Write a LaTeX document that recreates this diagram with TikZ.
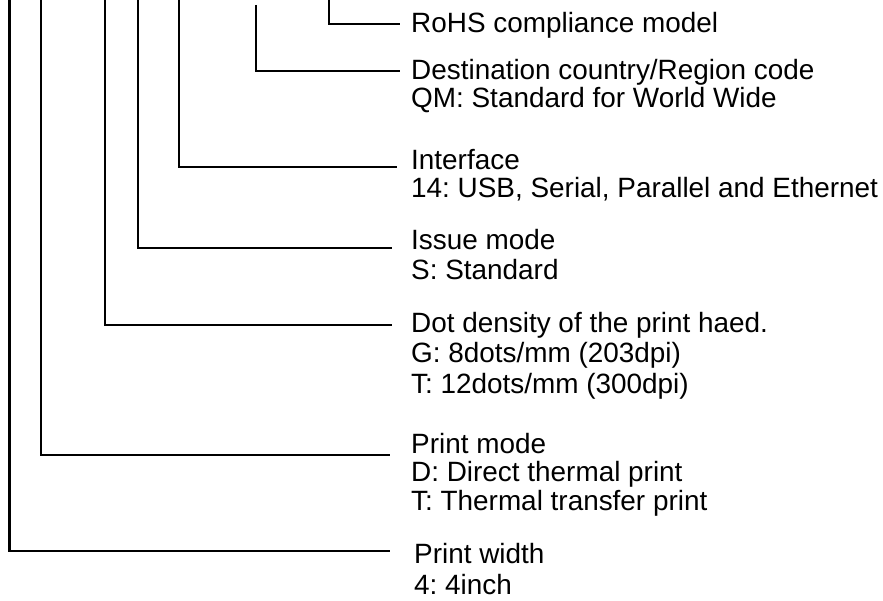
\documentclass[tikz,border=0pt]{standalone}
\usepackage{fontspec}
\setmainfont{Liberation Sans}
\frenchspacing
\begin{document}
\begin{tikzpicture}[x=1pt,y=-1pt,
  lead/.style={line width=2.8pt, line join=miter},
  lbl/.style={anchor=base west, inner sep=0pt, align=left,
    font=\fontsize{27.9}{#1}\selectfont\frenchspacing},
  lbl/.default=29.5]
\useasboundingbox (0,0) rectangle (883,601);
% labels (anchor = baseline of the last line)
\node[lbl] (rohs) at (411,33) {RoHS compliance model};
\node[lbl=28] (dest) at (411,108) {Destination country/Region code\\QM: Standard for World Wide};
\node[lbl=28] (intf) at (411,198) {Interface\\14: USB, Serial, Parallel and Ethernet};
\node[lbl=29.5] (issue) at (411,279.5) {Issue mode\\S: Standard};
\node[lbl=30.5] (dot) at (411,393) {Dot density of the print haed.\\G: 8dots/mm (203dpi)\\T: 12dots/mm (300dpi)};
\node[lbl=28.5] (pmode) at (411,510) {Print mode\\D: Direct thermal print\\T: Thermal transfer print};
\node[lbl=31] (pwidth) at (414,594) {Print width\\4: 4inch};
% leader start and end points
\coordinate (s1) at (329,0);   \coordinate (e1) at (400,24);
\coordinate (s2) at (256,5);   \coordinate (e2) at (400,71);
\coordinate (s3) at (179,0);   \coordinate (e3) at (397,167);
\coordinate (s4) at (138,0);   \coordinate (e4) at (392,248);
\coordinate (s5) at (105,0);   \coordinate (e5) at (392,325);
\coordinate (s6) at (41,0);    \coordinate (e6) at (390,455);
\coordinate (s7) at (9.5,0);   \coordinate (e7) at (390,551);
\draw[lead] (s1) |- (e1);
\draw[lead] (s2) |- (e2);
\draw[lead] (s3) |- (e3);
\draw[lead] (s4) |- (e4);
\draw[lead] (s5) |- (e5);
\draw[lead] (s6) |- (e6);
\draw[lead] (s7) |- (e7);
\end{tikzpicture}
\end{document}
